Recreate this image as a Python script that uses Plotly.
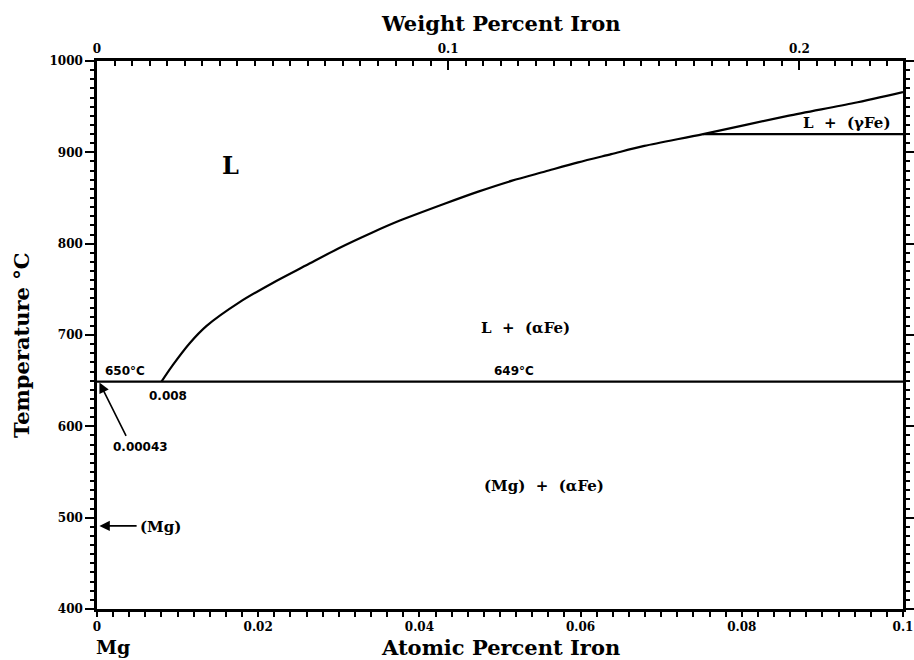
import plotly.graph_objects as go

# ---- data ----
liq_at = [0.008, 0.0094, 0.0115, 0.0136, 0.0177, 0.0218, 0.0259, 0.0300, 0.0341,
          0.0375, 0.0432, 0.0473, 0.0515, 0.0556, 0.0597, 0.0638, 0.0679, 0.0752,
          0.0857, 0.0939, 0.1000]
liq_T = [649, 667, 691, 710, 736, 757, 776, 795, 812,
         825, 844, 857, 869, 879, 889, 898, 907, 920,
         940, 954, 966]

eut_at = [0.0, 0.1]
eut_T = [649, 649]

gam_at = [0.0752, 0.1]
gam_T = [920, 920]

x_ticks = [0, 0.02, 0.04, 0.06, 0.08, 0.1]
x_ticktext = ["0", "0.02", "0.04", "0.06", "0.08", "0.1"]
wt_ticks = [0, 0.1, 0.2]
wt_ticktext = ["0", "0.1", "0.2"]
y_ticks = [400, 500, 600, 700, 800, 900, 1000]

x_range = [0, 0.1]
wt_range = [0, 0.2295]
y_range = [400, 1000]

SERIF = "DejaVu Serif"
SANS = "DejaVu Sans"
LW = 2.2

fig = go.Figure()
fig.add_trace(go.Scatter(x=liq_at, y=liq_T, mode="lines",
                         line=dict(color="black", width=LW, shape="spline", smoothing=0.8),
                         showlegend=False, hoverinfo="skip"))
fig.add_trace(go.Scatter(x=eut_at, y=eut_T, mode="lines", line=dict(color="black", width=LW),
                         showlegend=False, hoverinfo="skip"))
fig.add_trace(go.Scatter(x=gam_at, y=gam_T, mode="lines", line=dict(color="black", width=LW),
                         showlegend=False, hoverinfo="skip"))
# dummy trace for the top (weight percent) axis
fig.add_trace(go.Scatter(x=wt_range, y=[None, None], xaxis="x2", mode="lines", showlegend=False,
                         hoverinfo="skip"))

tickfont = dict(family=SERIF, size=12, color="black", weight="bold")

fig.update_layout(
    width=914, height=660,
    margin=dict(l=97, r=11, t=61, b=51),
    paper_bgcolor="white", plot_bgcolor="white",
    showlegend=False,
    xaxis=dict(range=x_range, tickvals=x_ticks, ticktext=x_ticktext, ticks="outside", ticklen=5,
               tickwidth=2, tickcolor="black", showline=True, linecolor="black", linewidth=2.5,
               showgrid=False, zeroline=False, tickfont=tickfont, mirror=False, automargin=False,
               ticklabeloverflow="allow",
               minor=dict(dtick=0.002, ticks="outside", ticklen=5, tickwidth=1.5, tickcolor="black")),
    xaxis2=dict(range=wt_range, overlaying="x", side="top", tickvals=wt_ticks, ticktext=wt_ticktext,
                ticks="inside", ticklen=9, tickwidth=2, tickcolor="black", showline=True,
                linecolor="black", linewidth=2.5, showgrid=False, zeroline=False, tickfont=tickfont,
                automargin=False, ticklabeloverflow="allow",
                minor=dict(dtick=0.005, ticks="inside", ticklen=5, tickwidth=1.5, tickcolor="black")),
    yaxis=dict(range=y_range, tickvals=y_ticks, ticks="outside", ticklen=9, tickwidth=2,
               tickcolor="black", showline=True, linecolor="black", linewidth=2.5, mirror="ticks",
               showgrid=False, zeroline=False, tickfont=tickfont, automargin=False,
               minor=dict(dtick=10, ticks="outside", ticklen=4, tickwidth=1.5, tickcolor="black")),
)

def label(x, y, text, size=13, family=SERIF, weight="bold", xanchor="center", yanchor="middle"):
    fig.add_annotation(x=x, y=y, xref="x", yref="y", text=text, showarrow=False,
                       xanchor=xanchor, yanchor=yanchor,
                       font=dict(family=family, size=size, color="black", weight=weight))

label(0.0166, 886, "L", size=24, weight="bold")
label(0.0532, 708, "L  +  (αFe)", size=15)
label(0.0554, 535, "(Mg)  +  (αFe)", size=15)
label(0.0930, 932, "L  +  (γFe)", size=15)
label(0.00077, 651, "650°C", size=12, family=SANS, xanchor="left", yanchor="bottom")
label(0.0517, 651, "649°C", size=12, family=SANS, yanchor="bottom")
label(0.0088, 633, "0.008", size=12, family=SANS)
label(0.0054, 577, "0.00043", size=12, family=SANS)
label(0.0051, 490, "(Mg)", size=15, xanchor="left")

# arrows
fig.add_annotation(x=0.0003, y=648, ax=0.0037, ay=588, xref="x", yref="y", axref="x", ayref="y",
                   text="", showarrow=True, arrowhead=2, arrowsize=1.3, arrowwidth=1.6, arrowcolor="black")
fig.add_annotation(x=0.0003, y=491, ax=0.0051, ay=491, xref="x", yref="y", axref="x", ayref="y",
                   text="", showarrow=True, arrowhead=2, arrowsize=1.3, arrowwidth=1.6, arrowcolor="black")

# axis titles
title_font = dict(family=SERIF, size=21, color="black", weight="bold")
fig.add_annotation(x=0.5, y=1.0, xref="paper", yref="paper", yshift=38, yanchor="middle",
                   xanchor="center", text="Weight Percent Iron", showarrow=False, font=title_font)
fig.add_annotation(x=0.5, y=0.0, xref="paper", yref="paper", yshift=-38, yanchor="middle",
                   xanchor="center", text="Atomic Percent Iron", showarrow=False, font=title_font)
fig.add_annotation(x=0.0, y=0.48, xref="paper", yref="paper", xshift=-75, xanchor="center",
                   yanchor="middle", text="Temperature °C", textangle=-90, showarrow=False,
                   font=title_font)
fig.add_annotation(x=0.0198, y=0.0, xref="paper", yref="paper", yshift=-38, xanchor="center",
                   yanchor="middle", text="Mg", showarrow=False,
                   font=dict(family=SERIF, size=19, color="black", weight="bold"))

fig.write_html("out.html")
